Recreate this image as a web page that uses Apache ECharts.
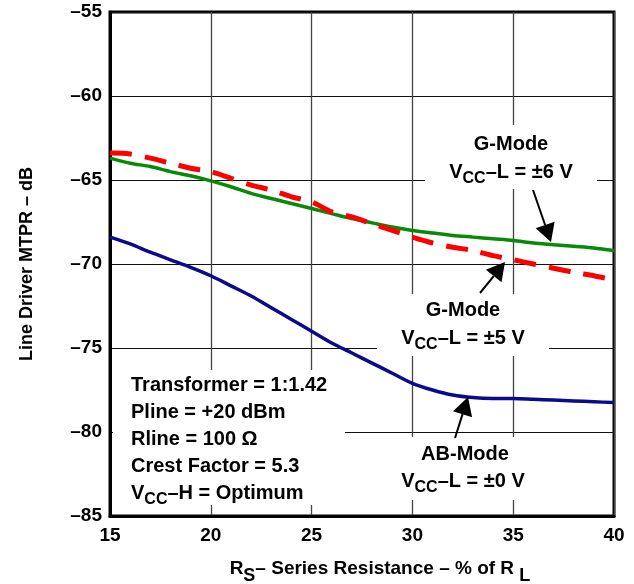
<!DOCTYPE html>
<html>
<head>
<meta charset="utf-8">
<script src="https://cdn.jsdelivr.net/npm/echarts@6/dist/echarts.min.js"></script>
<style>html,body{margin:0;padding:0;background:#fff}#c{width:634px;height:584px}</style>
</head>
<body>
<div id="c"></div>
<script>
var rs = [15,16,17,18,19,20,21,22,23,24,25,26,27,28,29,30,31,32,33,34,35,36,37,38,39,40];
var gMode6 = [-63.7,-64.0,-64.2,-64.5,-64.75,-65.05,-65.4,-65.8,-66.1,-66.4,-66.7,-67.0,-67.3,-67.55,-67.8,-68.0,-68.15,-68.3,-68.4,-68.5,-68.6,-68.75,-68.85,-68.95,-69.05,-69.2];
var gMode5 = [-63.4,-63.45,-63.7,-64.0,-64.3,-64.5,-64.9,-65.3,-65.6,-66.0,-66.3,-66.9,-67.2,-67.6,-68.0,-68.4,-68.75,-69.0,-69.2,-69.5,-69.75,-70.0,-70.25,-70.5,-70.7,-70.95];
var abMode = [-68.4,-68.8,-69.3,-69.75,-70.2,-70.7,-71.3,-71.9,-72.6,-73.3,-74.0,-74.7,-75.3,-75.9,-76.5,-77.1,-77.5,-77.8,-77.95,-78.0,-78.0,-78.05,-78.1,-78.15,-78.2,-78.25];
var xTicks = [15,20,25,30,35,40];
var yTicks = [-85,-80,-75,-70,-65,-60,-55];
var paramLines = ['Transformer = 1:1.42','Pline = +20 dBm','Rline = 100 \u03A9','Crest Factor = 5.3','V{sub|CC}\u2013H = Optimum'];

var FF = "'Liberation Sans', Arial, Helvetica, sans-serif";
function pairs(ys){ return rs.map(function(x,i){ return [x, ys[i]]; }); }
function fmt(v){ return String(v).replace('-', '\u2013'); }

var subRich = { sub: { fontSize: 16, fontWeight: 'bold', fontFamily: FF, padding: [13,0,0,0], fill: '#000' } };
function txt(text, x, y, align){
  return { type: 'text', z: 60, style: { text: text, x: x, y: y, align: align || 'center', verticalAlign: 'middle',
    font: 'bold 20px ' + FF, fill: '#000', rich: subRich } };
}
function rect(x, y, w, h){ return { type: 'rect', z: 50, shape: {x:x,y:y,width:w,height:h}, style: {fill:'#fff'} }; }
function arrow(x1,y1,x2,y2){
  var dx = x2-x1, dy = y2-y1, L = Math.sqrt(dx*dx+dy*dy), ux = dx/L, uy = dy/L;
  var hl = 18, hw = 10;
  var bx = x2 - ux*hl, by = y2 - uy*hl;
  return [
    { type: 'line', z: 61, shape: {x1:x1,y1:y1,x2:bx,y2:by}, style: {stroke:'#000', lineWidth: 2} },
    { type: 'polygon', z: 61, shape: { points: [[x2,y2],[bx - uy*hw, by + ux*hw],[bx + uy*hw, by - ux*hw]] }, style: {fill:'#000'} }
  ];
}

var graphics = [
  rect(425,125,172,64), rect(377,294,172,62), rect(395,437,140,63), rect(113,370,232,135),
  txt('G-Mode', 511, 144), txt('V{sub|CC}\u2013L = \u00B16 V', 511, 172),
  txt('G-Mode', 463, 310), txt('V{sub|CC}\u2013L = \u00B15 V', 463, 338),
  txt('AB-Mode', 465, 454), txt('V{sub|CC}\u2013L = \u00B10 V', 463, 481)
];
var py = [385, 412, 439, 466, 493];
paramLines.forEach(function(t,i){ graphics.push(txt(t, 131, py[i], 'left')); });
graphics = graphics.concat(arrow(533,190,551,242), arrow(480,293,505,262), arrow(455,438,468,397));

var chart = echarts.init(document.getElementById('c'), null, {renderer:'canvas'});
chart.setOption({
  animation: false,
  backgroundColor: '#fff',
  grid: { left: 110, right: 20, top: 12, bottom: 68, show: true, borderColor: '#000', borderWidth: 3,
    backgroundColor: 'transparent', containLabel: false, outerBoundsMode: 'none' },
  xAxis: {
    type: 'value', min: 15, max: 40, interval: 5,
    axisLine: { show: true, lineStyle: { color: '#000', width: 3 } },
    axisTick: { show: false },
    splitLine: { show: true, lineStyle: { color: '#444', width: 1.3 } },
    axisLabel: { margin: 10, color: '#000', fontSize: 19, fontWeight: 'bold', fontFamily: FF,
      formatter: function(v){ return xTicks.indexOf(v) >= 0 ? String(v) : ''; } },
    name: 'R{s|S}\u2013 Series Resistance \u2013 % of R {s|L}',
    nameLocation: 'middle', nameGap: 37,
    nameTextStyle: { color: '#000', fontSize: 19, fontWeight: 'bold', fontFamily: FF, padding: [0,0,0,36],
      rich: { s: { fontSize: 18, fontWeight: 'bold', fontFamily: FF, color: '#000', padding: [14,0,0,0] } } }
  },
  yAxis: {
    type: 'value', min: -85, max: -55, interval: 5,
    axisLine: { show: true, lineStyle: { color: '#000', width: 3 } },
    axisTick: { show: false },
    splitLine: { show: true, lineStyle: { color: '#111', width: 1 } },
    axisLabel: { margin: 8, color: '#000', fontSize: 19, fontWeight: 'bold', fontFamily: FF,
      formatter: function(v){ return yTicks.indexOf(v) >= 0 ? fmt(v) : ''; } },
    name: 'Line Driver MTPR \u2013 dB', nameLocation: 'middle', nameRotate: 90, nameGap: 74,
    nameTextStyle: { color: '#000', fontSize: 18, fontWeight: 'bold', fontFamily: FF }
  },
  series: [
    { type: 'line', name: 'G-Mode \u00B16 V', data: pairs(gMode6), smooth: 0.3, symbol: 'none', z: 3,
      lineStyle: { color: '#078a07', width: 3.5 } },
    { type: 'line', name: 'G-Mode \u00B15 V', data: pairs(gMode5), smooth: 0.3, symbol: 'none', z: 4,
      lineStyle: { color: '#ff0000', width: 5, type: [22, 13] } },
    { type: 'line', name: 'AB-Mode \u00B10 V', data: pairs(abMode), smooth: 0.3, symbol: 'none', z: 3,
      lineStyle: { color: '#0a0a8c', width: 3.5 } }
  ],
  graphic: graphics
});
</script>
</body>
</html>
